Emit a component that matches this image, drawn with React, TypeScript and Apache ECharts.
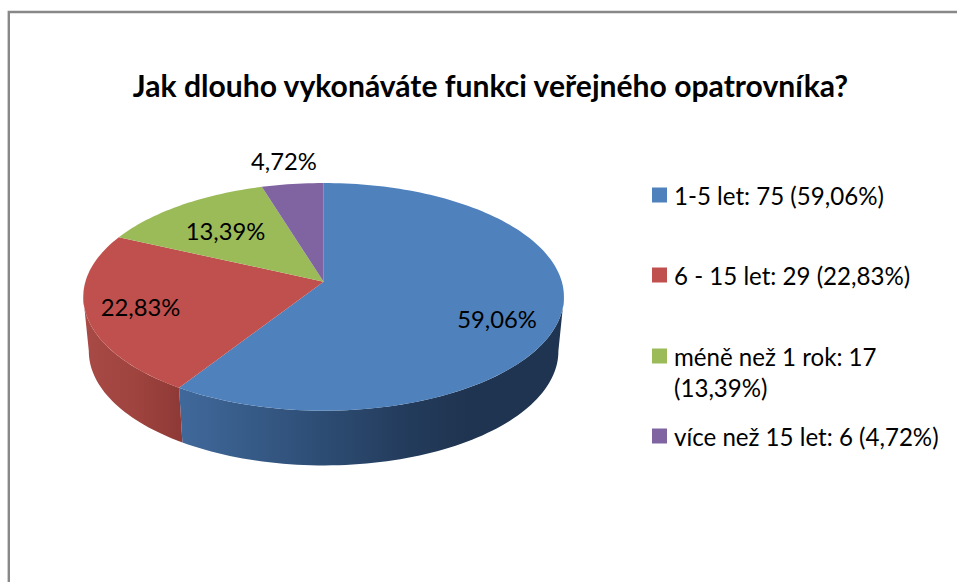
import React, { useEffect, useRef } from "react";
import * as echarts from "echarts";

const categories = ["1-5 let", "6 - 15 let", "méně než 1 rok", "více než 15 let"];
const counts = [75, 29, 17, 6];
const percentLabels = ["59,06%", "22,83%", "13,39%", "4,72%"];
const colors = ["#4f81bd", "#c0504d", "#9bbb59", "#8064a2"];
const legendNames = [
  "1-5 let: 75 (59,06%)",
  "6 - 15 let: 29 (22,83%)",
  "méně než 1 rok: 17",
  "více než 15 let: 6 (4,72%)",
];
const legendWrappedLine = "(13,39%)";
const legendTops = [183, 263, 344, 424];
const labelCenters = [
  [497, 318.5],
  [140.5, 307],
  [225.6, 231],
  [284, 161],
];
const sideStops = [
  [
    [0, "#40699b"],
    [0.35, "#2e4e76"],
    [0.6, "#233b5b"],
    [0.75, "#1f3450"],
    [1, "#1f3450"],
  ],
  [
    [0, "#a84a45"],
    [0.5, "#a0443f"],
    [1, "#8e3936"],
  ],
];

const FONT = "Lato";
const total = counts.reduce((a, b) => a + b, 0);

// Perspective view of the tilted disc
const VIEW = { cx: 323.6, cy: 281.7, a: 238.2, b: 111.8, k: 0.1331 };
const RIM = { cx: 323.6, cy: 336, a: 232.7, b: 112.2, k: 0.1331 };
const SIDE_FROM = 97.6;
const SIDE_TO = 262.4;

function project(v: typeof VIEW, deg: number) {
  const t = (deg * Math.PI) / 180;
  const X = Math.sin(t);
  const Y = Math.cos(t);
  const w = 1 + v.k * Y;
  return [v.cx + (v.a * X) / w, v.cy - (v.b * Y) / w];
}

function arc(v: typeof VIEW, from: number, to: number) {
  const n = Math.max(2, Math.ceil(Math.abs(to - from) / 1.5));
  const pts: number[][] = [];
  for (let i = 0; i <= n; i++) pts.push(project(v, from + ((to - from) * i) / n));
  return pts;
}

function sweep(index: number) {
  const before = counts.slice(0, index).reduce((a, b) => a + b, 0);
  return [(before / total) * 360, ((before + counts[index]) / total) * 360];
}

function renderSlice(params: any) {
  const i = params.seriesIndex;
  const [start, end] = sweep(i);
  const children: any[] = [];
  const visibleStart = Math.max(start, SIDE_FROM);
  const visibleEnd = Math.min(end, SIDE_TO);
  if (sideStops[i] && visibleEnd > visibleStart) {
    const pts = arc(VIEW, visibleStart, visibleEnd).concat(arc(RIM, visibleEnd, visibleStart));
    children.push({
      type: "polygon",
      shape: { points: pts },
      style: {
        fill: {
          type: "linear",
          x: 0,
          y: 0,
          x2: 1,
          y2: 0,
          colorStops: sideStops[i].map(([offset, color]) => ({ offset, color })),
        },
      },
    });
  }
  children.push({
    type: "polygon",
    shape: { points: [[VIEW.cx, VIEW.cy], ...arc(VIEW, start, end)] },
    style: { fill: colors[i] },
  });
  children.push({
    type: "text",
    z2: 10,
    style: {
      x: labelCenters[i][0],
      y: labelCenters[i][1],
      text: percentLabels[i],
      fill: "#000",
      font: `23.8px ${FONT}`,
      textAlign: "center",
      textVerticalAlign: "middle",
    },
  });
  return { type: "group", children };
}

export default function App() {
  const ref = useRef<HTMLDivElement>(null);
  useEffect(() => {
    const chart = echarts.init(ref.current!, null, { renderer: "svg" });
    chart.setOption({
      animation: false,
      backgroundColor: "#fff",
      title: {
        text: "Jak dlouho vykonáváte funkci veřejného opatrovníka?",
        left: 485.5,
        top: 65,
        textAlign: "center",
        textStyle: { fontFamily: FONT, fontWeight: "bold", fontSize: 30.1, color: "#000" },
      },
      legend: legendNames.map((name, i) => ({
        data: [name],
        left: 652,
        top: legendTops[i],
        padding: 0,
        itemWidth: 15,
        itemHeight: 15,
        icon: "rect",
        selectedMode: false,
        textStyle: {
          fontFamily: FONT,
          fontSize: 24.1,
          lineHeight: 15,
          color: "#000",
          padding: [0, 0, 0, 2],
        },
      })),
      graphic: [
        {
          type: "polyline",
          z: -1,
          shape: { points: [[8.8, 582], [8.8, 12], [957, 12]] },
          style: { stroke: "#888888", lineWidth: 2.4, fill: "none" },
        },
        {
          type: "text",
          left: 674,
          top: 375,
          style: { text: legendWrappedLine, font: `24.1px ${FONT}`, fill: "#000" },
        },
      ],
      series: categories.map((_, i) => ({
        type: "custom",
        name: legendNames[i],
        coordinateSystem: "none",
        itemStyle: { color: colors[i] },
        data: [counts[i]],
        renderItem: renderSlice,
      })),
    });
    return () => chart.dispose();
  }, []);
  return <div ref={ref} style={{ position: "fixed", left: 0, top: 0, width: 957, height: 582 }} />;
}
